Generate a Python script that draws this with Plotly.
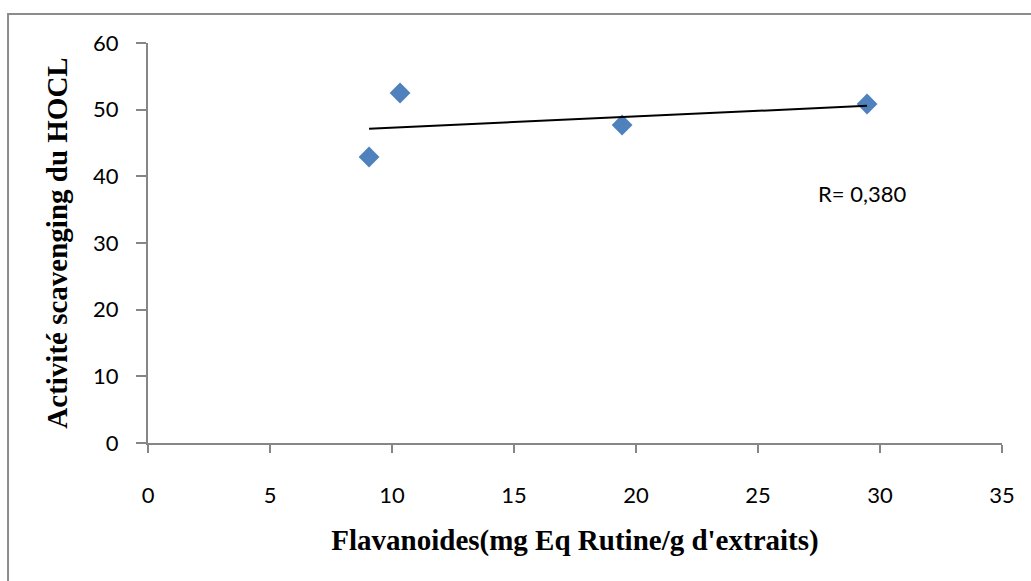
import numpy as np
import plotly.graph_objects as go

# Flavonoid content vs HOCl scavenging activity
flavanoides = [9.06, 10.33, 19.43, 29.47]
activite_hocl = [42.9, 52.5, 47.7, 50.85]
x_ticks = [0, 5, 10, 15, 20, 25, 30, 35]
y_ticks = [0, 10, 20, 30, 40, 50, 60]
r_label = "R= 0,380"

# Linear trend line over the data span
slope, intercept = np.polyfit(flavanoides, activite_hocl, 1)
trend_x = [min(flavanoides), max(flavanoides)]
trend_y = [slope * v + intercept for v in trend_x]

fig = go.Figure()
fig.add_trace(go.Scatter(
    x=flavanoides, y=activite_hocl, mode="markers",
    marker=dict(symbol="diamond", size=16, color="#4F81BD",
                line=dict(width=0)),
    showlegend=False,
))
fig.add_trace(go.Scatter(
    x=trend_x, y=trend_y, mode="lines",
    line=dict(color="black", width=2), showlegend=False,
))

fig.add_annotation(x=29.26, y=37.5, text=r_label, showarrow=False,
                   font=dict(family="Lato, Liberation Sans, sans-serif",
                             size=22, color="black"))

# Outer chart frame
fig.add_shape(type="rect", xref="paper", yref="paper",
              x0=-0.1639, y0=-0.6, x1=1.2, y1=1.0725,
              line=dict(color="#8c8c8c", width=2), layer="below")

axis_font = dict(family="Lato, Liberation Sans, sans-serif", size=22, color="black")
title_font = dict(family="Liberation Serif, Times New Roman, serif", size=29, color="black")

fig.update_xaxes(
    range=[0, 35], tickvals=x_ticks, ticktext=[str(t) for t in x_ticks],
    showgrid=False, zeroline=False, showline=True, linecolor="#868686", linewidth=2,
    ticks="outside", ticklen=8, tickwidth=2, tickcolor="#868686",
    tickfont=axis_font, ticklabelstandoff=24,
    title=dict(text="<b>Flavanoides(mg Eq Rutine/g d'extraits)</b>", font=title_font,
               standoff=22),
)
fig.update_yaxes(
    range=[0, 60], tickvals=y_ticks, ticktext=[str(t) for t in y_ticks],
    showgrid=False, zeroline=False, showline=True, linecolor="#868686", linewidth=2,
    ticks="outside", ticklen=10, tickwidth=2, tickcolor="#868686",
    tickfont=axis_font, ticklabelstandoff=13,
    title=dict(text="<b>Activité scavenging du HOCL</b>", font=title_font,
               standoff=17),
)

fig.update_layout(
    width=1031, height=581,
    margin=dict(l=148, r=29, t=43, b=138),
    plot_bgcolor="white", paper_bgcolor="white",
)

fig.write_html("out.html")
